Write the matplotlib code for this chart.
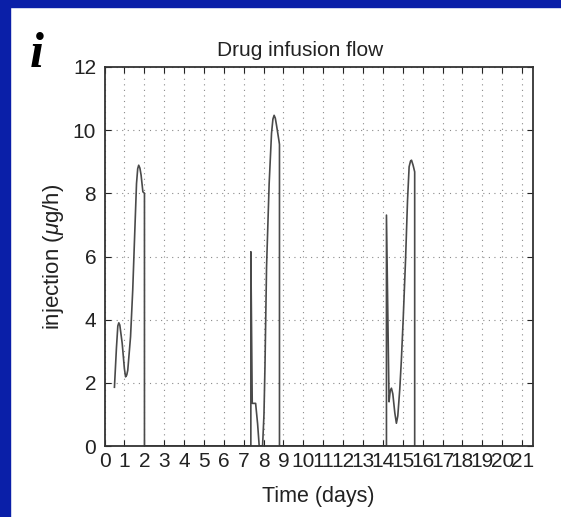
import numpy as np
import matplotlib.pyplot as plt
from matplotlib.patches import Rectangle

# infusion courses: time in days, flow in ug/h
t1 = [0.50, 0.60, 0.67, 0.72, 0.77, 0.89, 1.00, 1.06, 1.12, 1.17, 1.31, 1.42, 1.52, 1.61, 1.67, 1.72, 1.78, 1.84, 1.93, 2.01, 2.01]
f1 = [1.86, 3.10, 3.80, 3.90, 3.83, 3.25, 2.45, 2.19, 2.25, 2.40, 3.46, 4.94, 6.73, 8.31, 8.78, 8.89, 8.80, 8.58, 8.05, 8.00, 0.0]

t2 = [7.36, 7.36, 7.43, 7.60, 7.70, 7.78, 7.95, 8.02, 8.07, 8.15, 8.28, 8.40, 8.47, 8.53, 8.59, 8.65, 8.77, 8.80, 8.80]
f2 = [0.0, 6.15, 1.35, 1.35, 0.70, 0.0, 0.0, 1.00, 2.50, 5.67, 8.30, 9.90, 10.35, 10.47, 10.38, 10.16, 9.68, 9.55, 0.0]

t3 = [14.18, 14.18, 14.31, 14.37, 14.43, 14.50, 14.60, 14.68, 14.75, 14.85, 14.93, 15.02, 15.14, 15.24, 15.32, 15.39, 15.44, 15.52, 15.60, 15.60]
f3 = [0.0, 7.31, 1.40, 1.75, 1.83, 1.65, 1.05, 0.72, 0.95, 1.80, 2.72, 3.99, 5.89, 7.78, 8.84, 9.02, 9.05, 8.89, 8.68, 0.0]

day_ticks = list(range(22))
flow_ticks = [0, 2, 4, 6, 8, 10, 12]

plt.rcParams['font.family'] = ['Liberation Sans', 'DejaVu Sans']
plt.rcParams['mathtext.fontset'] = 'custom'
plt.rcParams['mathtext.it'] = 'Liberation Sans:italic'
plt.rcParams['mathtext.rm'] = 'Liberation Sans'

fig = plt.figure(figsize=(5.61, 5.17), dpi=100)
fig.patches.append(Rectangle((0, 0), 10 / 561, 1, transform=fig.transFigure,
                             color='#0a1fa8', zorder=0))
fig.patches.append(Rectangle((0, 1 - 7 / 517), 1, 7 / 517, transform=fig.transFigure,
                             color='#0a1fa8', zorder=0))

ax = fig.add_axes([104.5 / 561, 71 / 517, (533 - 104.5) / 561, (446 - 67) / 517])

t = t1 + t2 + t3
f = f1 + f2 + f3
ax.plot(t, f, color='#4a4a4a', lw=1.2, solid_joinstyle='round')

ax.set_xlim(0, 21.55)
ax.set_ylim(0, 12)
ax.set_xticks(day_ticks)
ax.set_yticks(flow_ticks)
ax.grid(True, color='#8a8a8a', linestyle=(0, (1, 4)), lw=0.8)
ax.tick_params(direction='in', top=True, right=True, length=4, labelsize=15,
               colors='#222222')
ax.tick_params(axis='y', pad=6)
ax.tick_params(axis='x', pad=4)
for s in ax.spines.values():
    s.set_linewidth(1.3)
    s.set_color('#333333')

fig.text(300 / 561, 1 - 51 / 517, 'Drug infusion flow', fontsize=15, color='#222222',
         ha='center', va='center')
ax.set_xlabel('Time (days)', fontsize=15.5, color='#222222')
ax.xaxis.set_label_coords(0.498, -0.105)
ax.set_ylabel(r'injection ($\mu$g/h)', fontsize=16, color='#222222')
ax.yaxis.set_label_coords(-0.09, 0.5)

fig.text(37 / 561, 1 - 55 / 517, 'i', family='Liberation Serif', style='italic',
         weight='bold', fontsize=36, ha='center', va='center')

fig.savefig('out.png', dpi=100)
